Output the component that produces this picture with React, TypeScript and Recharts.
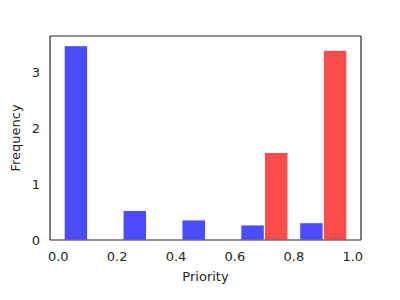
import React from "react";
import { ComposedChart, XAxis, YAxis, ReferenceArea, Label } from "recharts";

const binEdges = [0, 0.2, 0.4, 0.6, 0.8, 1.0];
const blueDensity = [3.48, 0.53, 0.36, 0.27, 0.31];
const redDensity = [0, 0, 0, 1.57, 3.4];
const xTicks = [0, 0.2, 0.4, 0.6, 0.8, 1.0];
const yTicks = [0, 1, 2, 3];

const BLUE = "#4c4cff";
const RED = "#ff4c4c";
const INK = "#262626";
const FONT = "DejaVu Sans, sans-serif";

type BarRect = { x1: number; x2: number; h: number; color: string };

const bars: BarRect[] = [];
for (let i = 0; i < blueDensity.length; i++) {
  const w = binEdges[i + 1] - binEdges[i];
  const start = binEdges[i] + 0.1 * w;
  bars.push({ x1: start, x2: start + 0.4 * w, h: blueDensity[i], color: BLUE });
  bars.push({ x1: start + 0.4 * w, x2: start + 0.8 * w, h: redDensity[i], color: RED });
}

const dataMin = Math.min(...bars.map((b) => b.x1));
const dataMax = Math.max(...bars.map((b) => b.x2));
const pad = (dataMax - dataMin) * 0.05;
const xDomain = [dataMin - pad, dataMax + pad];
const yMax = Math.max(...blueDensity, ...redDensity) * 1.05;

const data = binEdges.map((e) => ({ x: e }));

export default function App() {
  return (
    <div style={{ position: "absolute", left: 0, top: 0, width: 400, height: 300, background: "#fff" }}>
      <ComposedChart
        width={400}
        height={300}
        data={data}
        margin={{ top: 35, right: 38, bottom: 0, left: 0 }}
      >
        <XAxis
          xAxisId="b"
          dataKey="x"
          type="number"
          domain={xDomain}
          allowDataOverflow
          ticks={xTicks}
          tickFormatter={(v: number) => v.toFixed(1)}
          tickLine={false}
          tickSize={0}
          tickMargin={12}
          height={60}
          axisLine={{ stroke: INK, strokeWidth: 1.2 }}
          tick={{ fill: INK, fontSize: 13, fontFamily: FONT }}
        >
          <Label
            value="Priority"
            position="insideBottom"
            offset={19}
            style={{ fill: INK, fontSize: 13, fontFamily: FONT }}
          />
        </XAxis>
        <XAxis
          xAxisId="t"
          dataKey="x"
          type="number"
          orientation="top"
          domain={xDomain}
          allowDataOverflow
          ticks={xTicks}
          tick={false}
          tickLine={false}
          height={1}
          axisLine={{ stroke: INK, strokeWidth: 1.2 }}
        />
        <YAxis
          yAxisId="l"
          type="number"
          domain={[0, yMax]}
          allowDataOverflow
          ticks={yTicks}
          tickLine={false}
          tickSize={0}
          tickMargin={10}
          width={50}
          axisLine={{ stroke: INK, strokeWidth: 1.2 }}
          tick={{ fill: INK, fontSize: 13, fontFamily: FONT }}
        >
          <Label
            value="Frequency"
            angle={-90}
            position="insideLeft"
            offset={15}
            style={{ fill: INK, fontSize: 13, fontFamily: FONT, textAnchor: "middle" }}
          />
        </YAxis>
        <YAxis
          yAxisId="r"
          type="number"
          orientation="right"
          domain={[0, yMax]}
          ticks={yTicks}
          tick={false}
          tickLine={false}
          width={1}
          axisLine={{ stroke: INK, strokeWidth: 1.2 }}
        />
        {bars
          .filter((b) => b.h > 0)
          .map((b, i) => (
            <ReferenceArea
              key={i}
              xAxisId="b"
              yAxisId="l"
              x1={b.x1}
              x2={b.x2}
              y1={0}
              y2={b.h}
              fill={b.color}
              fillOpacity={1}
              stroke="#ffffff"
              strokeWidth={1}
              strokeOpacity={1}
              ifOverflow="visible"
            />
          ))}
      </ComposedChart>
    </div>
  );
}
